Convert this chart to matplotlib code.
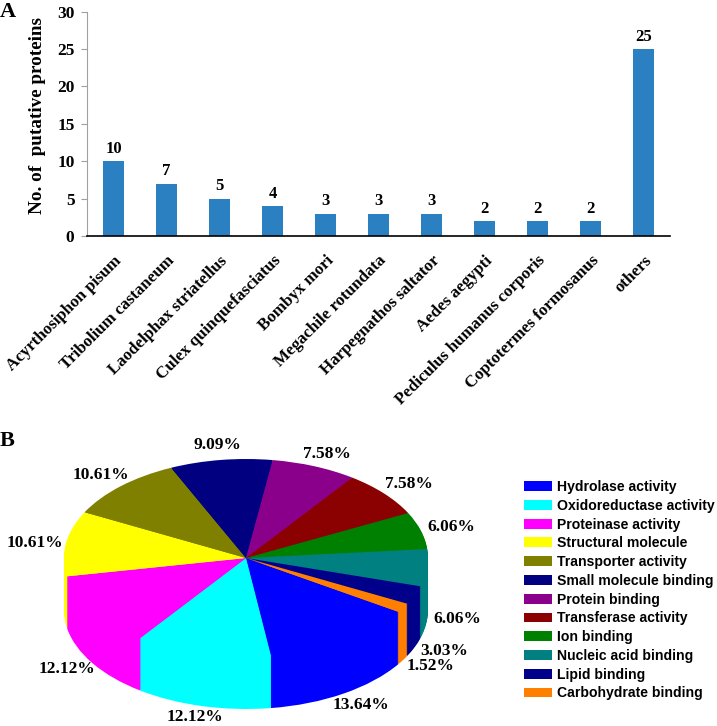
import matplotlib
matplotlib.use('Agg')
import matplotlib.pyplot as plt
from matplotlib.patches import Patch


plt.rcParams['font.family'] = ['Liberation Serif', 'DejaVu Serif']

W, H = 717, 726

SPECIES = ['Acyrthosiphon pisum', 'Tribolium castaneum', 'Laodelphax striatellus',
           'Culex quinquefasciatus', 'Bombyx mori', 'Megachile rotundata',
           'Harpegnathos saltator', 'Aedes aegypti', 'Pediculus humanus corporis',
           'Coptotermes formosanus', 'others']
COUNTS = [10, 7, 5, 4, 3, 3, 3, 2, 2, 2, 25]
Y_TICKS = [0, 5, 10, 15, 20, 25, 30]

FUNCTIONS = ['Hydrolase activity', 'Oxidoreductase activity', 'Proteinase activity',
             'Structural molecule', 'Transporter activity', 'Small molecule binding',
             'Protein binding', 'Transferase activity', 'Ion binding',
             'Nucleic acid binding', 'Lipid binding', 'Carbohydrate binding']
PERCENTS = [13.64, 12.12, 12.12, 10.61, 10.61, 9.09, 7.58, 7.58, 6.06, 6.06, 3.03, 1.52]
COLORS = ['#0000ff', '#00ffff', '#ff00ff', '#ffff00', '#808000', '#000080',
          '#8b008b', '#8b0000', '#008000', '#008080', '#00008b', '#ff8000']
# label centres in pixels, same order as PERCENTS
LABEL_X = [361, 195, 67, 35, 101, 217, 327, 409, 451, 457, 444, 431]
LABEL_Y = [705, 717, 669, 543, 475, 445, 454, 484, 527, 619, 651, 666]


def axes_from_pixels(left, top, right, bottom):
    return fig.add_axes([left / W, 1 - bottom / H, (right - left) / W, (bottom - top) / H])


fig = plt.figure(figsize=(W / 100, H / 100), dpi=100)

# panel A
ax = axes_from_pixels(87, 11.5, 670, 236)
ax.bar(range(len(COUNTS)), COUNTS, width=0.4, color='#2a80c0')
ax.set_xlim(-0.5, len(COUNTS) - 0.5)
ax.set_ylim(0, 30)
ax.set_yticks(Y_TICKS)
ax.set_yticklabels(Y_TICKS, fontsize=12.5, fontweight='bold')
ax.set_xticks(range(len(COUNTS)))
ax.set_xticklabels(SPECIES, rotation=45, ha='right', rotation_mode='anchor',
                   fontsize=12.2, fontweight='bold')
ax.tick_params(axis='y', length=4, color='#a0a0a0', pad=5)
ax.tick_params(axis='x', length=0, pad=12)
ax.spines['top'].set_visible(False)
ax.spines['right'].set_visible(False)
ax.spines['left'].set_color('#a0a0a0')
ax.spines['bottom'].set_color('black')
ax.spines['bottom'].set_linewidth(1.2)
for i, count in enumerate(COUNTS):
    ax.annotate(str(count), (i, count), xytext=(0, 3), textcoords='offset points',
                ha='center', va='bottom', fontsize=12, fontweight='bold')
ax.set_ylabel('No. of  putative proteins', fontsize=13.8, fontweight='bold', labelpad=8, y=0.535)

fig.text(8 / W, 1 - 12 / H, 'A', fontsize=16, fontweight='bold', ha='center', va='center')
fig.text(7 / W, 1 - 441 / H, 'B', fontsize=16, fontweight='bold', ha='center', va='center')

# panel B: stacked pies make the extruded side
RX, RY, DEPTH = 182, 99, 52
CX, CY = 246, 558
pie_ax = axes_from_pixels(CX - 1.1 * RX, CY - 1.1 * RY, CX + 1.1 * RX, CY + 1.1 * RY + DEPTH)
for px in range(DEPTH, -1, -1):
    pie_ax.pie(PERCENTS, colors=COLORS, startangle=-33, counterclock=False,
               center=(0, -px / RY), radius=1)
pie_ax.set_aspect('auto')
pie_ax.set_xlim(-1.1, 1.1)
pie_ax.set_ylim(-1.1 - DEPTH / RY, 1.1)

for pct, x, y in zip(PERCENTS, LABEL_X, LABEL_Y):
    fig.text(x / W, 1 - y / H, f'{pct:.2f}%', fontsize=12.5, fontweight='bold',
             ha='center', va='center')

handles = [Patch(facecolor=c, label=f) for c, f in zip(COLORS, FUNCTIONS)]
fig.legend(handles=handles, loc='upper left', bbox_to_anchor=(524 / W, 1 - 480 / H),
           frameon=False, ncol=1, handlelength=2.0, handleheight=0.7, handletextpad=0.36,
           labelspacing=0.34, borderpad=0, borderaxespad=0,
           prop={'family': 'Liberation Sans', 'weight': 'bold', 'size': 10.1})

plt.savefig('out.png', dpi=100)
